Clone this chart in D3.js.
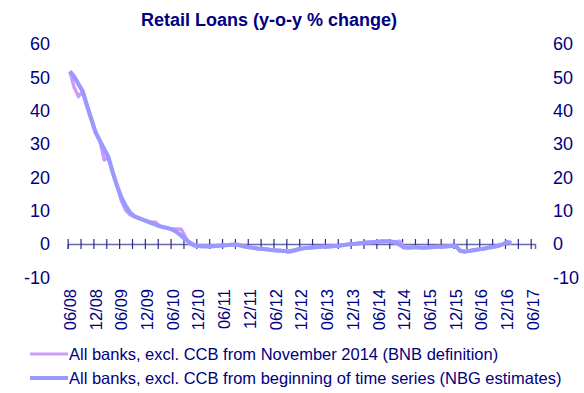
<!DOCTYPE html>
<html>
<head>
<meta charset="utf-8">
<script src="https://cdn.jsdelivr.net/npm/d3@7"></script>
<style>
body{margin:0;background:#fff;}
svg{display:block;font-family:"Liberation Sans",Arial,sans-serif;}
</style>
</head>
<body>
<svg id="c" width="584" height="393"></svg>
<script>
// Monthly observations starting 06/2008
const startYear = 2008, startMonth = 6;
const nbgSeries = [51.8,50.2,48.0,45.8,41.5,37.5,33.5,31.0,28.5,26.0,21.5,17.5,14.0,11.5,9.5,8.3,7.8,7.3,6.8,6.3,
  5.8,5.3,5.0,4.7,4.3,3.5,2.5,1.3,0.4,-0.3,-0.6,-0.7,-0.7,-0.7,-0.6,-0.5,-0.4,-0.3,-0.2,-0.2,
  -0.5,-0.8,-1.0,-1.2,-1.4,-1.5,-1.6,-1.8,-1.9,-2.0,-2.1,-2.2,-2.0,-1.7,-1.4,-1.2,-1.1,-1.0,-0.9,-0.8,
  -0.8,-0.7,-0.6,-0.5,-0.3,-0.1,0.0,0.1,0.3,0.4,0.5,0.6,0.7,0.8,0.8,0.7,0.4,-0.3,-1.0,-1.1,
  -1.0,-1.0,-1.1,-1.1,-1.0,-0.9,-0.8,-0.8,-0.7,-0.6,-0.6,-2.0,-2.3,-2.1,-1.9,-1.7,-1.5,-1.3,-1.0,-0.8,
  -0.5,-0.1,0.6,0.3];
const bnbSeries = [51.8,47.0,44.2,45.8,41.5,37.5,33.5,31.0,25.2,26.0,21.5,17.5,13.0,10.2,8.8,8.3,7.8,7.3,6.8,6.6,
  6.5,5.3,5.0,4.7,4.5,4.5,4.4,2.0,0.0,-0.6,-0.6,-0.7,-0.7,-0.7,-0.6,-0.5,-0.4,-0.3,-0.2,-0.2,
  -0.5,-0.8,-1.0,-1.2,-1.4,-1.5,-1.6,-1.8,-1.9,-2.0,-2.1,-2.4,-2.2,-1.7,-1.4,-1.2,-1.1,-1.0,-0.9,-0.8,
  -0.8,-0.7,-0.6,-0.5,-0.3,-0.1,0.0,0.1,0.3,0.4,0.5,0.6,0.7,0.8,0.8,0.7,0.7,0.8,-1.0,-1.1,
  -1.0,-1.0,-1.1,-1.1,-1.0,-0.9,-0.8,-0.8,-0.7,-0.6,-0.6,-2.0,-2.3,-2.1,-1.9,-1.7,-1.5,-1.3,-1.0,-0.8,
  -0.5,-0.1,0.6,0.3];
const xLabels = ["06/08","12/08","06/09","12/09","06/10","12/10","06/11","12/11","06/12","12/12",
  "06/13","12/13","06/14","12/14","06/15","12/15","06/16","12/16","06/17"];
const yTicks = [-10,0,10,20,30,40,50,60];
const seriesNames = ["All banks, excl. CCB from November 2014 (BNB definition)",
  "All banks, excl. CCB from beginning of time series (NBG estimates)"];
const title = "Retail Loans (y-o-y % change)";
const totalMonths = 109;

const navy = "#000080";
const colBNB = "#CC99FF", colNBG = "#9999FF";
const svg = d3.select("#c");

const x = d3.scaleLinear().domain([0,totalMonths]).range([67.7,535]);
const y = d3.scaleLinear().domain([-10,60]).range([277.3,44]);
const fmt = d => String(d);

// title
svg.append("text").attr("x",269).attr("y",26).attr("text-anchor","middle")
  .attr("font-weight","bold").attr("font-size",18).attr("fill",navy).text(title);

// y axes (labels only)
const yl = svg.append("g").attr("transform","translate(50,0)")
  .call(d3.axisLeft(y).tickValues(yTicks).tickSize(0).tickPadding(0).tickFormat(fmt));
yl.select(".domain").remove();
yl.selectAll("text").attr("font-size",18).attr("fill",navy).attr("font-family","Liberation Sans, Arial, sans-serif");
const yr = svg.append("g").attr("transform","translate(553,0)")
  .call(d3.axisRight(y).tickValues(yTicks).tickSize(0).tickPadding(0).tickFormat(fmt));
yr.select(".domain").remove();
yr.selectAll("text").attr("font-size",18).attr("fill",navy).attr("font-family","Liberation Sans, Arial, sans-serif");

// x axis at 0
const tickVals = d3.range(0, totalMonths, 3);
const xa = svg.append("g").attr("transform",`translate(0,${y(0)})`)
  .call(d3.axisBottom(x).tickValues(tickVals).tickSizeOuter(0).tickSize(5).tickFormat(""));
xa.select(".domain").attr("stroke","#6a6aa6").attr("stroke-width",1.5);
xa.selectAll(".tick line").attr("y1",-5).attr("y2",5).attr("stroke","#2a2a90").attr("stroke-width",1.2);

// x labels
const labelMonths = xLabels.map((d,i)=>i*6);
const lab = svg.append("g");
lab.selectAll("text").data(labelMonths).join("text")
  .attr("transform",d=>`translate(${x(d+0.5)+6},289) rotate(-90)`)
  .attr("text-anchor","end").attr("font-size",16.5).attr("fill",navy)
  .text((d,i)=>xLabels[i]);

// lines
const line = d3.line().x((d,i)=>x(i+0.5)).y(d=>y(d));
svg.append("path").datum(bnbSeries).attr("d",line).attr("fill","none")
  .attr("stroke",colBNB).attr("stroke-width",3.4).attr("stroke-linejoin","round");
svg.append("path").datum(nbgSeries).attr("d",line).attr("fill","none")
  .attr("stroke",colNBG).attr("stroke-width",4.2).attr("stroke-linejoin","round");

// legend
const lg = svg.append("g");
[colBNB,colNBG].forEach((c,i)=>{
  const yy = 354 + i*24;
  lg.append("line").attr("x1",30).attr("x2",68).attr("y1",yy).attr("y2",yy)
    .attr("stroke",c).attr("stroke-width",i?4:3.2);
  lg.append("text").attr("x",69).attr("y",yy+6).attr("font-size",16.5).attr("fill",navy).text(seriesNames[i]);
});
</script>
</body>
</html>
